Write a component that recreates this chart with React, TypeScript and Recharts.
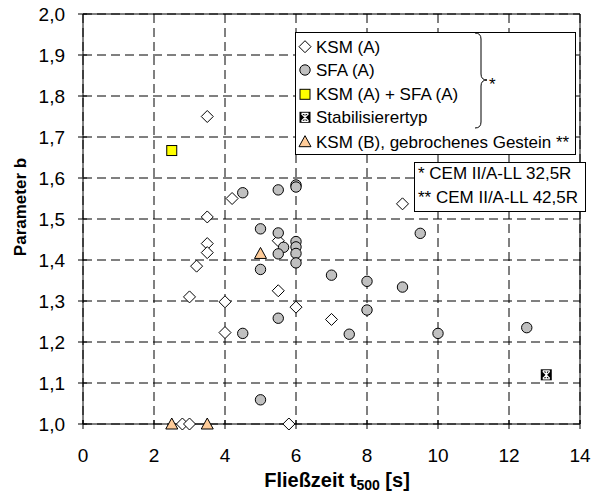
import React from 'react';
import { ScatterChart, Scatter, XAxis, YAxis, CartesianGrid, ReferenceLine } from 'recharts';

const ksmA = [
  { x: 3.5, y: 1.75 }, { x: 4.2, y: 1.55 }, { x: 3.5, y: 1.505 }, { x: 3.5, y: 1.44 },
  { x: 3.5, y: 1.418 }, { x: 3.2, y: 1.385 }, { x: 3.0, y: 1.31 }, { x: 4.0, y: 1.298 },
  { x: 4.0, y: 1.223 }, { x: 5.5, y: 1.447 }, { x: 5.5, y: 1.325 }, { x: 6.0, y: 1.285 },
  { x: 7.0, y: 1.255 }, { x: 9.0, y: 1.537 }, { x: 2.8, y: 1.0 }, { x: 3.0, y: 1.0 },
  { x: 5.8, y: 1.0 },
];
const sfaA = [
  { x: 4.5, y: 1.564 }, { x: 5.5, y: 1.571 }, { x: 6.0, y: 1.583 }, { x: 6.0, y: 1.578 },
  { x: 5.0, y: 1.476 }, { x: 5.5, y: 1.466 }, { x: 5.65, y: 1.431 }, { x: 6.0, y: 1.445 },
  { x: 6.0, y: 1.432 }, { x: 6.0, y: 1.416 }, { x: 6.0, y: 1.393 }, { x: 5.5, y: 1.415 },
  { x: 5.0, y: 1.377 }, { x: 5.5, y: 1.258 }, { x: 4.5, y: 1.221 }, { x: 5.0, y: 1.059 },
  { x: 9.5, y: 1.465 }, { x: 7.0, y: 1.363 }, { x: 8.0, y: 1.348 }, { x: 9.0, y: 1.334 },
  { x: 8.0, y: 1.278 }, { x: 7.5, y: 1.219 }, { x: 10.0, y: 1.221 }, { x: 12.5, y: 1.235 },
];
const ksmSfa = [{ x: 2.5, y: 1.667 }];
const stabilisierer = [{ x: 13.05, y: 1.12 }];
const ksmB = [{ x: 5.0, y: 1.416 }, { x: 2.5, y: 1.0 }, { x: 3.5, y: 1.0 }];

const xTicks = [0, 2, 4, 6, 8, 10, 12, 14];
const yTicks = [1.0, 1.1, 1.2, 1.3, 1.4, 1.5, 1.6, 1.7, 1.8, 1.9, 2.0];

const legendLabels = ['KSM (A)', 'SFA (A)', 'KSM (A) + SFA (A)', 'Stabilisierertyp', 'KSM (B), gebrochenes Gestein **'];
const noteLabels = ['* CEM II/A-LL 32,5R', '** CEM II/A-LL 42,5R'];
const xTitle = 'Fließzeit t';
const xTitleSub = '500';
const xTitleEnd = ' [s]';
const yTitle = 'Parameter b';

const FONT = '"Liberation Sans", Arial, Helvetica, sans-serif';

const Diamond = ({ cx, cy }: any) => (
  <path d={`M${cx},${cy - 6} L${cx + 6},${cy} L${cx},${cy + 6} L${cx - 6},${cy} Z`} fill="#fff" stroke="#000" strokeWidth={1} />
);
const Circle = ({ cx, cy }: any) => (
  <circle cx={cx} cy={cy} r={5.2} fill="#C0C0C0" stroke="#000" strokeWidth={1} />
);
const Square = ({ cx, cy }: any) => (
  <rect x={cx - 5} y={cy - 5} width={10} height={10} fill="#FFFF00" stroke="#000" strokeWidth={1} />
);
const Triangle = ({ cx, cy }: any) => (
  <path d={`M${cx},${cy - 6} L${cx + 6},${cy + 5} L${cx - 6},${cy + 5} Z`} fill="#FFCC99" stroke="#000" strokeWidth={1} />
);
const Stab = ({ cx, cy }: any) => (
  <g>
    <rect x={cx - 5.5} y={cy - 5.5} width={11} height={11} fill="#000" />
    <path d={`M${cx - 3.5},${cy - 3.5} L${cx + 3.5},${cy + 3.5} M${cx + 3.5},${cy - 3.5} L${cx - 3.5},${cy + 3.5} M${cx},${cy - 4} L${cx},${cy + 4} M${cx - 3.5},${cy - 4} L${cx + 3.5},${cy - 4} M${cx - 3.5},${cy + 4} L${cx + 3.5},${cy + 4}`} stroke="#fff" strokeWidth={1.2} />
  </g>
);

const XTick = (props: any) => {
  const { x, y, payload } = props;
  return (
    <g>
      <line x1={x} x2={x} y1={y - 4} y2={y + 5} stroke="#000" />
      <text x={x} y={y + 38} textAnchor="middle" fontSize={19} fontFamily={FONT} fill="#000">{payload.value}</text>
    </g>
  );
};
const YTick = (props: any) => {
  const { x, y, payload } = props;
  return (
    <g>
      <line x1={x - 5} x2={x + 4} y1={y} y2={y} stroke="#000" />
      <text x={x - 18} y={y + 6.8} textAnchor="end" fontSize={19} fontFamily={FONT} fill="#000">
        {Number(payload.value).toFixed(1).replace('.', ',')}
      </text>
    </g>
  );
};

const legendMarkers = [Diamond, Circle, Square, Stab, Triangle];

export default function App() {
  const W = 602;
  const H = 495;
  const rowY = [46.7, 70, 94.3, 117.3, 141.7];
  return (
    <div style={{ position: 'relative', width: W, height: H, marginLeft: -8, marginTop: -8 }}>
      <ScatterChart width={W} height={H} margin={{ top: 14, right: 22, left: 0, bottom: 0 }}>
        <CartesianGrid stroke="#000" strokeDasharray="9 5" />
        <XAxis type="number" dataKey="x" domain={[0, 14]} ticks={xTicks} height={71}
          axisLine={{ stroke: '#000' }} tickLine={false} tickSize={0} tickMargin={0} tick={<XTick />} interval={0} />
        <YAxis type="number" dataKey="y" domain={[1, 2]} ticks={yTicks} width={83}
          axisLine={{ stroke: '#000' }} tickLine={false} tickSize={0} tickMargin={0} tick={<YTick />} interval={0} />
        <ReferenceLine y={2} stroke="#000" />
        <ReferenceLine x={14} stroke="#000" />
        <Scatter data={ksmA} shape={Diamond} isAnimationActive={false} />
        <Scatter data={sfaA} shape={Circle} isAnimationActive={false} />
        <Scatter data={ksmSfa} shape={Square} isAnimationActive={false} />
        <Scatter data={stabilisierer} shape={Stab} isAnimationActive={false} />
        <Scatter data={ksmB} shape={Triangle} isAnimationActive={false} />
      </ScatterChart>
      <svg width={W} height={H} style={{ position: 'absolute', left: 0, top: 0, pointerEvents: 'none' }}>
        <rect x={295.5} y={32.5} width={280} height={122} fill="#fff" stroke="#000" />
        {legendLabels.map((t, i) => {
          const M = legendMarkers[i];
          return (
            <g key={t}>
              <M cx={305} cy={rowY[i]} />
              <text x={316} y={rowY[i] + 6} fontSize={17} fontFamily={FONT} fill="#000">{t}</text>
            </g>
          );
        })}
        <path d="M475,33 Q481,33 481,39 L481,74 Q481,80 487,80 Q481,80 481,86 L481,122 Q481,128 475,128" fill="none" stroke="#000" />
        <text x={489} y={90} fontSize={17} fontFamily={FONT} fill="#000">*</text>
        <rect x={414.5} y={162.5} width={171} height={49} fill="#fff" stroke="#000" />
        {noteLabels.map((t, i) => (
          <text key={t} x={418} y={179 + i * 24} fontSize={17} fontFamily={FONT} fill="#000">{t}</text>
        ))}
        <text x={337} y={487} textAnchor="middle" fontSize={20} fontWeight="bold" fontFamily={FONT} fill="#000">
          {xTitle}<tspan fontSize={14} dy={3}>{xTitleSub}</tspan><tspan dy={-3}>{xTitleEnd}</tspan>
        </text>
        <text x={26} y={207} transform="rotate(-90, 26, 207)" textAnchor="middle" fontSize={17} fontWeight="bold" fontFamily={FONT} fill="#000">
          {yTitle}
        </text>
      </svg>
    </div>
  );
}
